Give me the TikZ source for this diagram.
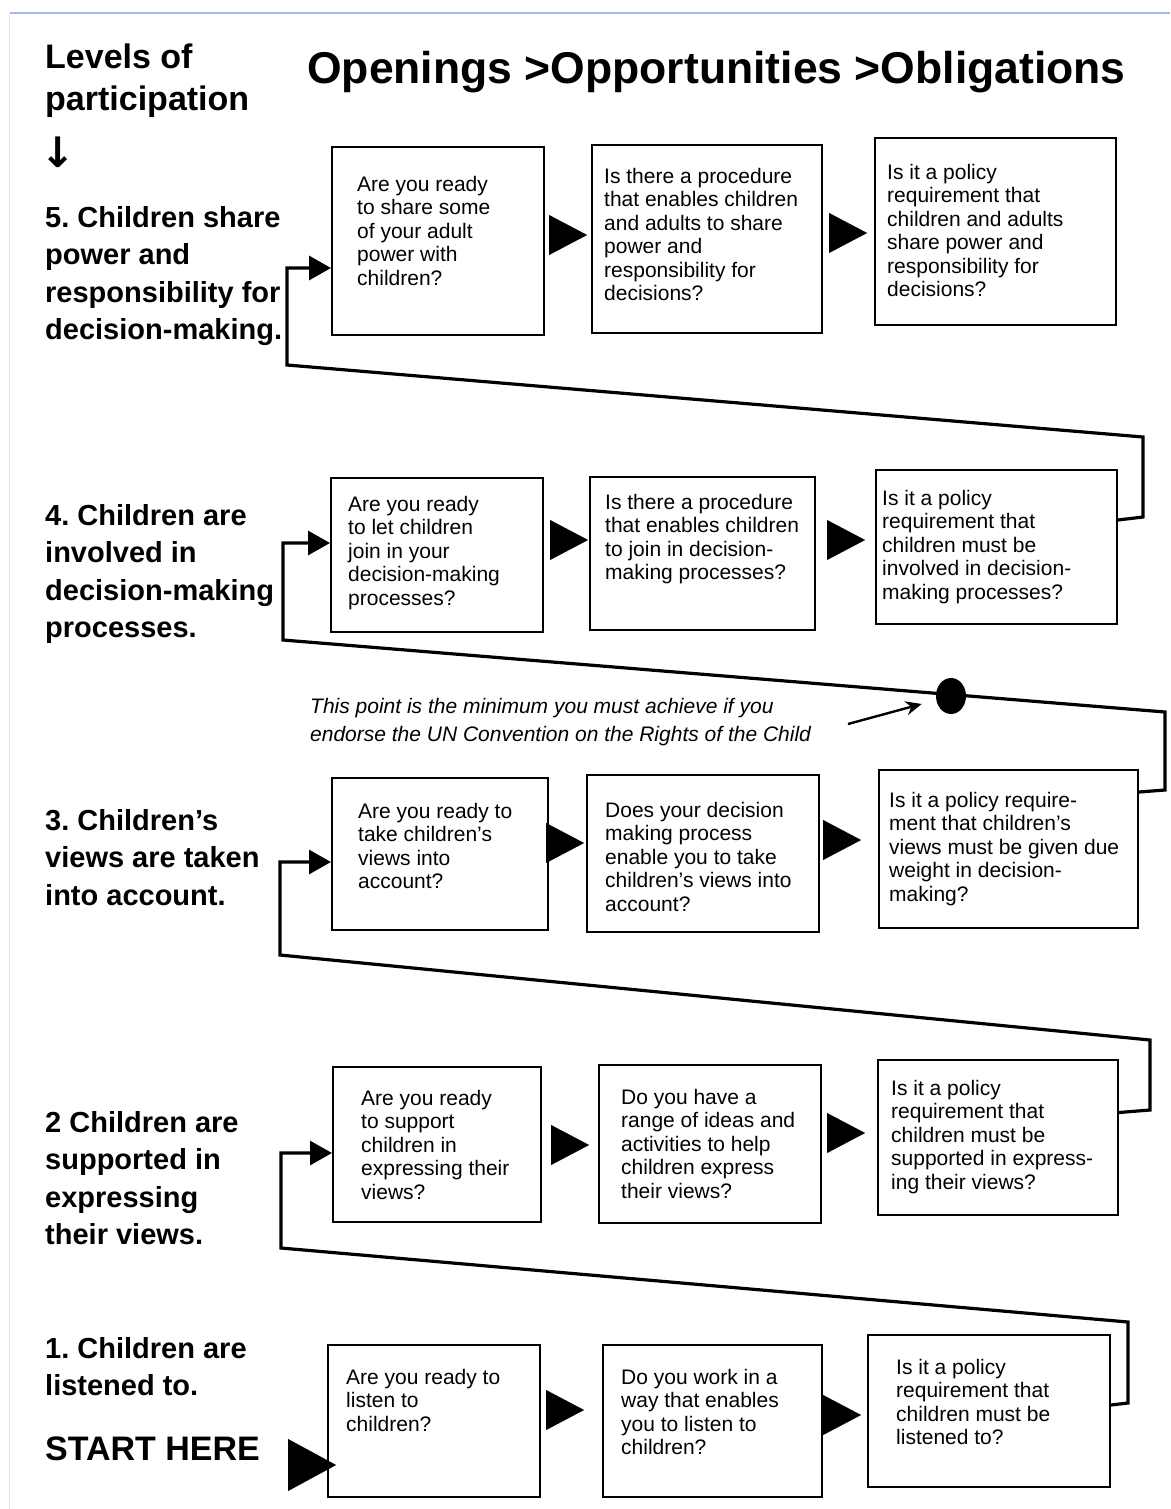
\documentclass[tikz,border=0pt]{standalone}
\usepackage{fontspec}
\setmainfont{Liberation Sans}
\newfontfamily\symfont{DejaVu Sans}
\usetikzlibrary{arrows.meta, shapes.geometric, calc}
\definecolor{framecol}{RGB}{160,190,235}
\frenchspacing

\begin{document}
\begin{tikzpicture}[
        x=1pt, y=-1pt,
        box/.style={draw, line width=2pt, rectangle, inner sep=0pt},
        qtext/.style={anchor=north west, inner sep=0pt, align=left, font=\fontsize{21}{23.5}\selectfont},
        level/.style={anchor=north west, inner sep=0pt, align=left, font=\bfseries\fontsize{29}{37.5}\selectfont},
        stepper/.style={-{Triangle[length=38pt, width=40pt]}, line width=0.1pt},
        feedback/.style={-{Triangle[length=22pt, width=24pt]}, line width=3.2pt, line join=miter},
        note_arrow/.style={-{Stealth[length=16pt, width=14pt]}, line width=2.4pt}
    ]
    \useasboundingbox (0,0) rectangle (1170,1509);

    % Frame of the screenshot
    \draw[framecol, line width=1.5pt] (10,13) -- (1170,13);
    \draw[framecol!40, line width=1pt] (9,13) -- (9,1509);

    % Headings
    \node[anchor=north west, inner sep=0pt, align=left, font=\bfseries\fontsize{34}{42}\selectfont] (levels) at (45,44) {Levels of\\participation};
    \node[anchor=base west, inner sep=0pt, font=\bfseries\fontsize{44.5}{44.5}\selectfont] (title) at (307,84) {Openings >Opportunities >Obligations};
    \node[inner sep=0pt, font=\symfont\bfseries\fontsize{42}{42}\selectfont] (down) at (58,152) {↓};

    % Level labels
    \node[level] (l5) at (45,206) {5. Children share\\power and\\responsibility for\\decision-making.};
    \node[level] (l4) at (45,504) {4. Children are\\involved in\\decision-making\\processes.};
    \node[level] (l3) at (45,809) {3. Children's\\views are taken\\into account.};
    \node[level] (l2) at (45,1111) {2 Children are\\supported in\\expressing\\their views.};
    \node[level] (l1) at (45,1337) {1. Children are\\listened to.};
    \node[anchor=north west, inner sep=0pt, font=\bfseries\fontsize{34}{34}\selectfont] (start here) at (45,1437) {START HERE};

    % Level 5
    \node[box, minimum width=212pt, minimum height=188pt] (a5) at (438,241) {};
    \node[box, minimum width=230pt, minimum height=188pt] (b5) at (707,239) {};
    \node[box, minimum width=241pt, minimum height=187pt] (c5) at (995.5,231.5) {};
    \node[qtext] (a5t) at (357,176) {Are you ready\\to share some\\of your adult\\power with\\children?};
    \node[qtext] (b5t) at (604,168) {Is there a procedure\\that enables children\\and adults to share\\power and\\responsibility for\\decisions?};
    \node[qtext] (c5t) at (887,164) {Is it a policy\\requirement that\\children and adults\\share power and\\responsibility for\\decisions?};

    % Level 4
    \node[box, minimum width=212pt, minimum height=154pt] (a4) at (437,555) {};
    \node[box, minimum width=225pt, minimum height=153pt] (b4) at (702.5,553.5) {};
    \node[box, minimum width=241pt, minimum height=154pt] (c4) at (996.5,547) {};
    \node[qtext] (a4t) at (348,496) {Are you ready\\to let children\\join in your\\decision-making\\processes?};
    \node[qtext] (b4t) at (605,494) {Is there a procedure\\that enables children\\to join in decision-\\making processes?};
    \node[qtext] (c4t) at (882,490) {Is it a policy\\requirement that\\children must be\\involved in decision-\\making processes?};

    % Level 3
    \node[box, minimum width=216pt, minimum height=152pt] (a3) at (440,854) {};
    \node[box, minimum width=232pt, minimum height=157pt] (b3) at (703,853.5) {};
    \node[box, minimum width=259pt, minimum height=158pt] (c3) at (1008.5,849) {};
    \node[qtext] (a3t) at (358,803) {Are you ready to\\take children's\\views into\\account?};
    \node[qtext] (b3t) at (605,802) {Does your decision\\making process\\enable you to take\\children's views into\\account?};
    \node[qtext] (c3t) at (889,792) {Is it a policy require-\\ment that children's\\views must be given due\\weight in decision-\\making?};

    % Level 2
    \node[box, minimum width=208pt, minimum height=155pt] (a2) at (437,1144.5) {};
    \node[box, minimum width=222pt, minimum height=158pt] (b2) at (710,1144) {};
    \node[box, minimum width=240pt, minimum height=155pt] (c2) at (998,1137.5) {};
    \node[qtext] (a2t) at (361,1090) {Are you ready\\to support\\children in\\expressing their\\views?};
    \node[qtext] (b2t) at (621,1089) {Do you have a\\range of ideas and\\activities to help\\children express\\their views?};
    \node[qtext] (c2t) at (891,1080) {Is it a policy\\requirement that\\children must be\\supported in express-\\ing their views?};

    % Level 1
    \node[box, minimum width=212pt, minimum height=152pt] (a1) at (434,1421) {};
    \node[box, minimum width=219pt, minimum height=152pt] (b1) at (712.5,1421) {};
    \node[box, minimum width=242pt, minimum height=152pt] (c1) at (989,1411) {};
    \node[qtext] (a1t) at (346,1369) {Are you ready to\\listen to\\children?};
    \node[qtext] (b1t) at (621,1369) {Do you work in a\\way that enables\\you to listen to\\children?};
    \node[qtext] (c1t) at (896,1359) {Is it a policy\\requirement that\\children must be\\listened to?};

    % Steps along each level
    \foreach \p/\q/\y/\g/\s in {a5/b5/235/5/4, b5/c5/233/7/7, a4/b4/540/7/1, b4/c4/540/12/10,
                                 a3/b3/843/0/2, b3/c3/840/3/17, a2/b2/1145/10/9, b2/c2/1133/6/12,
                                 a1/b1/1410/6/18, b1/c1/1415/1/6}
        \draw[stepper, shorten <=\g pt, shorten >=\s pt] (\p.east |- 0,\y) -- (\q.west |- 0,\y);

    % Start arrow
    \coordinate (start) at (290,1465);
    \draw[-{Triangle[length=48pt, width=52pt]}, line width=0.1pt, shorten >=-9pt] (start) -- (start -| a1.west);

    % Climbing to the next level
    \draw[feedback] ([yshift=6pt]c1.east) -- (1128,1403) -- (1128,1322) -- (281,1248) |- ([yshift=-8.5pt]a2.west);
    \draw[feedback] ([yshift=25pt]c2.east) -- (1150,1110) -- (1150,1040) -- (280,955) |- ([yshift=-8pt]a3.west);
    \draw[feedback] ([yshift=57pt]c3.east) -- (1165,790) -- (1165,712) -- (283,640) |- ([yshift=12pt]a4.west);
    \draw[feedback] ([yshift=27pt]c4.east) -- (1143,517) -- (1143,437) -- (287,365) |- ([yshift=-27pt]a5.west);

    % Minimum point
    \node[ellipse, fill, minimum width=30pt, minimum height=36pt, inner sep=0pt] (mindot) at (951,696) {};
    \node[anchor=north west, inner sep=0pt, align=left, font=\itshape\fontsize{21}{28}\selectfont] (note) at (310,698)
        {This point is the minimum you must achieve if you\\endorse the UN Convention on the Rights of the Child};
    \coordinate (noteend) at (848,724);
    \draw[note_arrow, shorten >=15pt] (noteend) -- (mindot);

\end{tikzpicture}
\end{document}
